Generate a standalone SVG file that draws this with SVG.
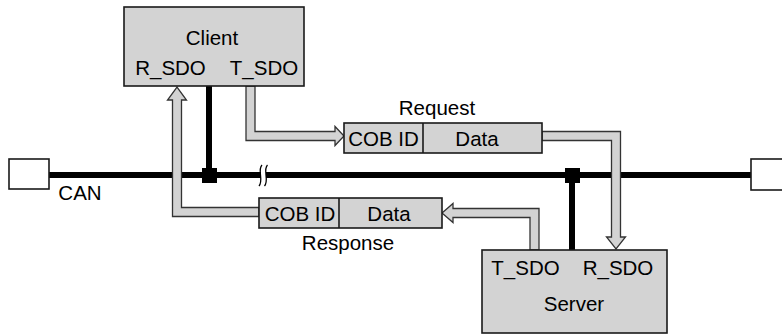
<svg xmlns="http://www.w3.org/2000/svg" width="782" height="336" viewBox="0 0 782 336">
<style>
.box{fill:#d3d3d3;stroke:#1a1a1a;stroke-width:1.6}
.term{fill:#ffffff;stroke:#1a1a1a;stroke-width:1.6}
.t{font-family:"Liberation Sans",Arial,sans-serif;font-size:20.5px;fill:#000;text-anchor:middle}
.bus{stroke:#000;stroke-width:6;fill:none}
.hollow{fill:#d3d3d3;stroke:#333;stroke-width:1.3;stroke-linejoin:miter}
.jn{fill:#000}
</style>
<rect width="782" height="336" fill="#ffffff"/>
<g id="connectors">
  <line class="bus" x1="49" y1="175" x2="751" y2="175"/>
  <rect x="261" y="170" width="5" height="10" fill="#ffffff"/>
  <path d="M262,165 C257,170 264,180 259,186 M267.5,165 C262.5,170 269.5,180 264.5,186" fill="none" stroke="#000" stroke-width="1.3"/>
  <line class="bus" x1="209" y1="86" x2="209" y2="175"/>
  <line class="bus" x1="572" y1="175" x2="572" y2="250"/>
  <rect class="jn" x="202" y="168" width="15" height="15"/>
  <rect class="jn" x="565" y="168" width="15" height="15"/>
  <polygon class="hollow" points="246,86 246,140.5 335,140.5 335,145.5 344,136 335,126.5 335,131.5 255,131.5 255,86"/>
  <polygon class="hollow" points="542,131.5 620.5,131.5 620.5,237 625.5,237 616,249 606.5,237 611.5,237 611.5,140.5 542,140.5"/>
  <polygon class="hollow" points="530,250 530,217.5 453,217.5 453,222.5 442,213 453,203.5 453,208.5 539,208.5 539,250"/>
  <polygon class="hollow" points="259,207.5 181.5,207.5 181.5,100 186.5,100 177,87 167.5,100 172.5,100 172.5,216.5 259,216.5"/>
</g>
<g id="term-left">
  <rect class="term" x="9" y="159" width="40" height="30"/>
  <text class="t" x="80" y="200">CAN</text>
</g>
<g id="term-right">
  <rect class="term" x="751" y="159" width="40" height="31"/>
</g>
<g id="client">
  <rect class="box" x="124" y="7" width="180" height="79"/>
  <text class="t" x="212" y="45">Client</text>
  <text class="t" x="170.5" y="75">R_SDO</text>
  <text class="t" x="264" y="75">T_SDO</text>
</g>
<g id="request">
  <text class="t" x="437" y="115">Request</text>
  <rect class="box" x="344" y="123" width="198" height="30"/>
  <line x1="423" y1="123" x2="423" y2="153" stroke="#1a1a1a" stroke-width="1.6"/>
  <text class="t" x="383.5" y="146">COB ID</text>
  <text class="t" x="477" y="146">Data</text>
</g>
<g id="response">
  <rect class="box" x="259" y="198" width="183" height="30"/>
  <line x1="339" y1="198" x2="339" y2="228" stroke="#1a1a1a" stroke-width="1.6"/>
  <text class="t" x="300" y="221">COB ID</text>
  <text class="t" x="389" y="221">Data</text>
  <text class="t" x="348" y="250">Response</text>
</g>
<g id="server">
  <rect class="box" x="482" y="250" width="185" height="83"/>
  <text class="t" x="525.5" y="275">T_SDO</text>
  <text class="t" x="618" y="275">R_SDO</text>
  <text class="t" x="574" y="311">Server</text>
</g>
</svg>
